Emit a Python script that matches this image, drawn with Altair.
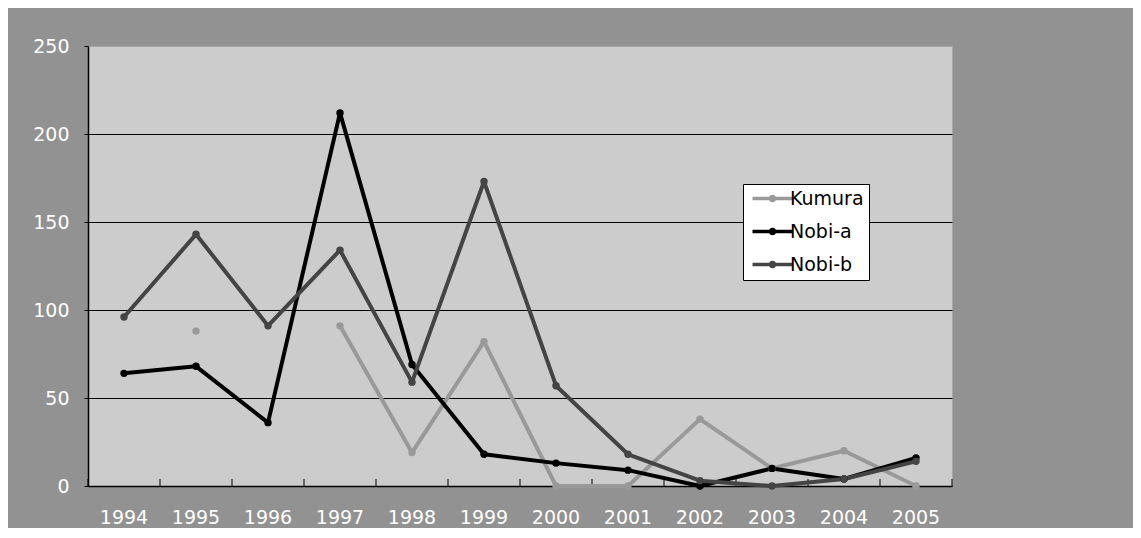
import altair as alt
import pandas as pd

years = [str(y) for y in range(1994, 2006)]
series_names = ["Kumura", "Nobi-a", "Nobi-b"]
kumura = [None, 88, None, 91, 19, 82, 0, 0, 38, 10, 20, 0]
nobi_a = [64, 68, 36, 212, 69, 18, 13, 9, 0, 10, 4, 16]
nobi_b = [96, 143, 91, 134, 59, 173, 57, 18, 3, 0, 4, 14]
colors = ["#999999", "#000000", "#444444"]
y_ticks = [0, 50, 100, 150, 200, 250]

FONT = "DejaVu Sans"

rows = []
for name, col, vals in zip(series_names, colors, [kumura, nobi_a, nobi_b]):
    seg = 0
    for yr, v in zip(years, vals):
        if v is None:
            seg += 1
            continue
        rows.append({"year": yr, "series": name, "value": v,
                     "seg": f"{name}-{seg}", "col": col})
df = pd.DataFrame(rows)
tick_df = pd.DataFrame({"year": years})

x_scale = alt.Scale(type="band", domain=years, paddingInner=0, paddingOuter=0)
y_scale = alt.Scale(domain=[0, 250], nice=False)

x_axis = alt.Axis(title=None, labelAngle=0, labelColor="white", labelFontSize=19,
                  labelFont=FONT, ticks=False, domainColor="black", domainWidth=1.5,
                  labelPadding=22, grid=False)
y_axis = alt.Axis(title=None, values=y_ticks, labelColor="white", labelFontSize=19,
                  labelFont=FONT, tickColor="black", tickSize=4, domainColor="black",
                  domainWidth=1.5, labelPadding=15,
                  gridColor={"condition": {"test": "datum.value === 250", "value": "#a8a8a8"},
                             "value": "black"},
                  gridWidth=1)

legend_path = ("M-1,-0.35L7,-0.35L7,0.35L-1,0.35Z "
               "M3.75,0A0.75,0.75 0 1,1 2.25,0A0.75,0.75 0 1,1 3.75,0Z")

lines = alt.Chart(df).mark_line(strokeWidth=4, strokeJoin="round", strokeCap="round").encode(
    x=alt.X("year:O", sort=years, scale=x_scale, axis=x_axis),
    y=alt.Y("value:Q", scale=y_scale, axis=y_axis),
    stroke=alt.Stroke("col:N", scale=None),
    detail="seg:N",
)

points = alt.Chart(df).mark_point(filled=True, size=55, opacity=1).encode(
    x=alt.X("year:O", sort=years, scale=x_scale, axis=x_axis),
    y=alt.Y("value:Q", scale=y_scale, axis=y_axis),
    fill=alt.Fill("series:N", scale=alt.Scale(domain=series_names, range=colors),
                  legend=alt.Legend(orient="none", legendX=655, legendY=138, title=None,
                                    fillColor="white", strokeColor="black", padding=5,
                                    symbolType=legend_path, symbolSize=100,
                                    symbolStrokeWidth=0, symbolOpacity=1,
                                    labelFontSize=19, labelColor="black", labelFont=FONT,
                                    labelOffset=23, rowPadding=13)),
)

ticks = alt.Chart(tick_df).mark_rule(color="black", strokeWidth=1).encode(
    x=alt.X("year:O", sort=years, scale=x_scale, bandPosition=0, axis=x_axis),
    y=alt.value(433),
    y2=alt.value(440),
)
last_tick = alt.Chart(tick_df.tail(1)).mark_rule(color="black", strokeWidth=1).encode(
    x=alt.X("year:O", sort=years, scale=x_scale, bandPosition=1, axis=x_axis),
    y=alt.value(433),
    y2=alt.value(440),
)

chart = alt.layer(ticks, last_tick, lines, points).properties(
    width=864, height=440,
    padding={"left": 80, "top": 38, "right": 181, "bottom": 42},
    autosize=alt.AutoSizeParams(type="none"),
    background="#929292",
).configure_view(fill="#cccccc", stroke="#a8a8a8", strokeWidth=1)

chart.save("out.html", embed_options={"renderer": "svg", "actions": False})
